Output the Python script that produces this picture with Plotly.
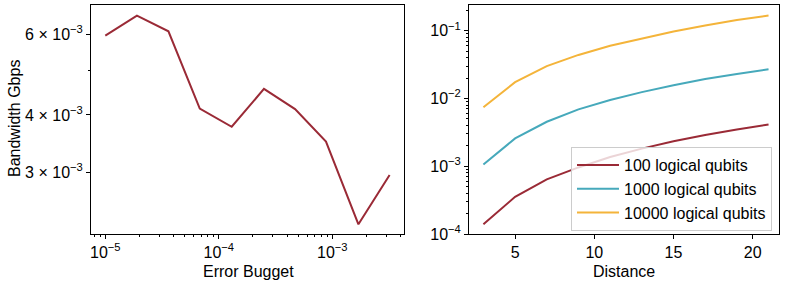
import plotly.graph_objects as go

# ---- data ----
error_budget = [1.0e-5, 1.9e-5, 3.6e-5, 6.8e-5, 1.3e-4, 2.5e-4, 4.7e-4, 8.8e-4, 1.7e-3, 3.2e-3]
bandwidth_gbps = [5.96e-3, 6.59e-3, 6.09e-3, 4.13e-3, 3.77e-3, 4.56e-3, 4.12e-3, 3.50e-3, 2.31e-3, 2.96e-3]

distance = [3, 5, 7, 9, 11, 13, 15, 17, 19, 21]
bw_100 = [1.39e-4, 3.54e-4, 6.4e-4, 9.6e-4, 1.37e-3, 1.82e-3, 2.33e-3, 2.89e-3, 3.48e-3, 4.14e-3]
bw_1000 = [1.06e-3, 2.57e-3, 4.53e-3, 6.9e-3, 9.5e-3, 1.24e-2, 1.57e-2, 1.93e-2, 2.30e-2, 2.70e-2]
bw_10000 = [7.4e-3, 1.74e-2, 3.0e-2, 4.39e-2, 6.0e-2, 7.6e-2, 9.7e-2, 1.19e-1, 1.44e-1, 1.67e-1]
series_names = ["100 logical qubits", "1000 logical qubits", "10000 logical qubits"]

left_ytick_vals = [3e-3, 4e-3, 6e-3]
left_ytick_text = ["3 × 10<sup>−3</sup>", "4 × 10<sup>−3</sup>", "6 × 10<sup>−3</sup>"]
left_xtick_vals = [1e-5, 1e-4, 1e-3]
left_xtick_text = ["10<sup>−5</sup>", "10<sup>−4</sup>", "10<sup>−3</sup>"]
right_ytick_vals = [1e-4, 1e-3, 1e-2, 1e-1]
right_ytick_text = ["10<sup>−4</sup>", "10<sup>−3</sup>", "10<sup>−2</sup>", "10<sup>−1</sup>"]
right_xtick_vals = [5, 10, 15, 20]

RED = "#9a2a36"
TEAL = "#46a9bb"
YELLOW = "#f4b43a"
FONT = "Liberation Sans, Arial, sans-serif"

ML, MR, MT, MB = 91, 10, 5, 48
W, H = 789, 282
PW, PH = W - ML - MR, H - MT - MB


def px_x(p):
    return (p - ML) / PW


def px_y(p):
    return (H - MB - p) / PH


def minor_log(lo_exp, hi_exp):
    vals = []
    for e in range(lo_exp, hi_exp + 1):
        for m in range(2, 10):
            vals.append(m * 10.0 ** e)
    return vals


fig = go.Figure()
fig.add_trace(go.Scatter(x=error_budget, y=bandwidth_gbps, mode="lines",
                         line=dict(color=RED, width=2), showlegend=False,
                         xaxis="x", yaxis="y"))
for ys, col, nm in zip([bw_100, bw_1000, bw_10000], [RED, TEAL, YELLOW], series_names):
    fig.add_trace(go.Scatter(x=distance, y=ys, mode="lines", name=nm,
                             line=dict(color=col, width=2),
                             xaxis="x2", yaxis="y2"))

axis_common = dict(showline=True, linecolor="black", linewidth=1, mirror=True,
                   showgrid=False, zeroline=False, ticks="outside", ticklen=4,
                   tickcolor="black", tickwidth=1, automargin=False,
                   tickfont=dict(family=FONT, size=16, color="black"))

fig.update_layout(
    width=W, height=H,
    margin=dict(l=ML, r=MR, t=MT, b=MB, autoexpand=False),
    paper_bgcolor="white", plot_bgcolor="white",
    font=dict(family=FONT, size=16, color="black"),
    xaxis=dict(**axis_common, type="log", domain=[0, px_x(404)],
               range=[-5.126, -2.368], tickmode="array",
               tickvals=left_xtick_vals, ticktext=left_xtick_text,
               minor=dict(ticks="outside", ticklen=2, tickcolor="black",
                          tickmode="array", tickvals=minor_log(-6, -3))),
    yaxis=dict(**axis_common, type="log", domain=[0, 1],
               range=[-2.6576, -2.158], tickmode="array",
               tickvals=left_ytick_vals, ticktext=left_ytick_text,
               minor=dict(ticks="outside", ticklen=2, tickcolor="black",
                          tickmode="array", tickvals=[5e-3])),
    xaxis2=dict(**axis_common, domain=[px_x(469), 1.0], anchor="y2",
                range=[2.09, 21.66], tickmode="array",
                tickvals=right_xtick_vals),
    yaxis2=dict(**axis_common, type="log", domain=[0, 1], anchor="x2",
                range=[-4.0, -0.621], tickmode="array",
                tickvals=right_ytick_vals, ticktext=right_ytick_text,
                minor=dict(ticks="outside", ticklen=2, tickcolor="black",
                           tickmode="array", tickvals=minor_log(-5, -1))),
    legend=dict(x=px_x(571), y=px_y(147), xanchor="left", yanchor="top",
                itemwidth=42,
                bgcolor="rgba(255,255,255,0.8)", bordercolor="#cccccc",
                borderwidth=1, font=dict(family=FONT, size=16, color="black")),
)

# axis titles
fig.add_annotation(text="Error Bugget", x=px_x(248), y=px_y(271), xref="paper", yref="paper",
                   xanchor="center", yanchor="middle", showarrow=False,
                   font=dict(family=FONT, size=16, color="black"))
fig.add_annotation(text="Distance", x=px_x(624), y=px_y(271), xref="paper", yref="paper",
                   xanchor="center", yanchor="middle", showarrow=False,
                   font=dict(family=FONT, size=16, color="black"))
fig.add_annotation(text="Bandwidth Gbps", x=px_x(14), y=px_y(119), xref="paper", yref="paper",
                   xanchor="center", yanchor="middle", showarrow=False, textangle=-90,
                   font=dict(family=FONT, size=16, color="black"))

fig.write_html("out.html", config={"displayModeBar": False},
               post_script="document.body.style.margin='0';")
